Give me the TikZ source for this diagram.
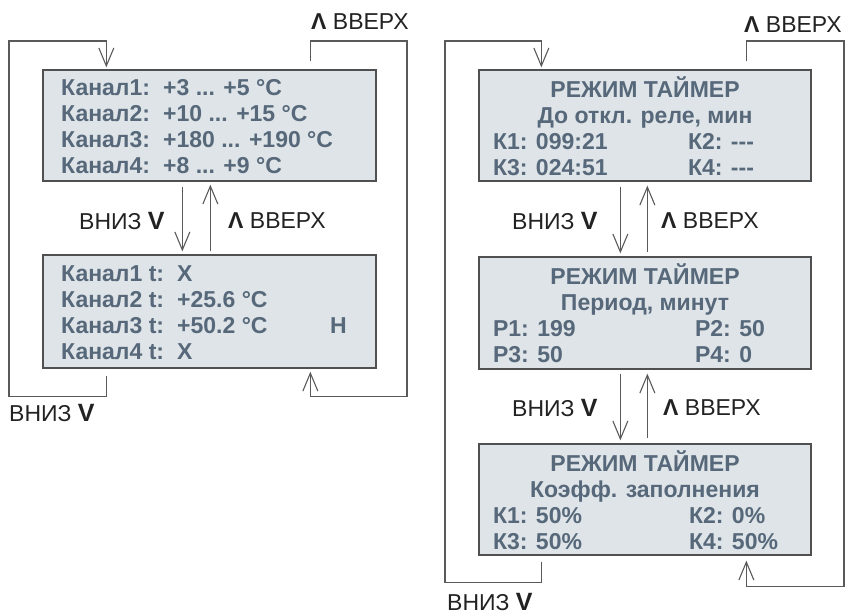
\documentclass[tikz,border=0pt]{standalone}
\usepackage{fontspec}
\setmainfont{Liberation Sans}
\usetikzlibrary{arrows.meta,calc}
\definecolor{boxfill}{HTML}{DEE4E7}
\definecolor{boxdraw}{HTML}{505050}
\definecolor{boxtext}{HTML}{56687A}
\definecolor{conncol}{HTML}{5A5A5A}
\definecolor{lbltext}{HTML}{222222}
\newcommand{\hy}{-\kern0pt-\kern0pt-}
\newcommand{\dnV}{{\fontsize{25}{26}\selectfont\bfseries V}}
\newcommand{\upL}{{\bfseries Λ}}
\begin{document}
\begin{tikzpicture}[x=1pt,y=-1pt,
  screen/.style={draw=boxdraw,line width=1.3pt,fill=boxfill,inner sep=0pt,rectangle},
  scrtext/.style={text=boxtext,font=\fontsize{23}{26}\selectfont\bfseries,inner sep=0pt,align=left},
  lbl/.style={text=lbltext,font=\fontsize{23}{26}\selectfont,inner sep=0pt,anchor=west},
  conn/.style={draw=conncol,line width=1.1pt,-{Straight Barb[length=18pt,width=15pt]}}]
\useasboundingbox (0,0) rectangle (851,614);

% ---------- left panel ----------
\node[screen,minimum width=333pt,minimum height=111pt] (L1) at (209.5,125.5) {};
\node[screen,minimum width=333pt,minimum height=113pt] (L2) at (209.5,311.5) {};

\node[scrtext,anchor=west] (L1t) at (61,127) {%
\makebox[102pt][l]{Канал1:}+3 ... +5 °C\\
\makebox[102pt][l]{Канал2:}+10 ... +15 °C\\
\makebox[102pt][l]{Канал3:}+180 ... +190 °C\\
\makebox[102pt][l]{Канал4:}+8 ... +9 °C};

\node[scrtext,anchor=west] (L2t) at (61,313) {%
\makebox[116pt][l]{Канал1 t:}X\\
\makebox[116pt][l]{Канал2 t:}+25.6 °C\\
\makebox[116pt][l]{Канал3 t:}\makebox[153pt][l]{+50.2 °C}H\\
\makebox[116pt][l]{Канал4 t:}X};

\node[lbl] (Lup) at (311,22) {\upL{} ВВЕРХ};
\node[lbl] (Ldn1) at (79,221) {ВНИЗ \dnV};
\node[lbl] (Lup1) at (228,221) {\upL{} ВВЕРХ};
\node[lbl] (Ldn) at (9,413) {ВНИЗ \dnV};

\draw[conn] ($(L2.south west)+(64,7)$) -- ++(0,21) -| (9,41) -| ($(L1.north west)+(64,-2)$);
\draw[conn] ($(L1.north west)+(268,-8)$) |- (407,41) |- ($(L2.south west)+(268,28)$) -- ($(L2.south west)+(268,3)$);
\draw[conn] ($(L1.south west)+(140,5)$) -- ($(L2.north west)+(140,-3)$);
\draw[conn] ($(L2.north west)+(168,-3)$) -- ($(L1.south west)+(168,3)$);

% ---------- right panel ----------
\node[screen,minimum width=332pt,minimum height=111pt] (R1) at (645,125.5) {};
\node[screen,minimum width=332pt,minimum height=112pt] (R2) at (645,313) {};
\node[screen,minimum width=332pt,minimum height=111pt] (R3) at (645,499.5) {};

\node[scrtext,align=center] (R1t) at (645,126) {%
\makebox[304pt][c]{РЕЖИМ ТАЙМЕР}\\
\makebox[304pt][c]{До откл. реле, мин}\\
\makebox[304pt][l]{\makebox[195pt][l]{К1: 099:21}К2: \hy}\\
\makebox[304pt][l]{\makebox[195pt][l]{К3: 024:51}К4: \hy}};

\node[scrtext,align=center] (R2t) at (645,313) {%
\makebox[304pt][c]{РЕЖИМ ТАЙМЕР}\\
\makebox[304pt][c]{Период, минут}\\
\makebox[304pt][l]{\makebox[202pt][l]{P1: 199}P2: 50}\\
\makebox[304pt][l]{\makebox[202pt][l]{P3: 50}P4: 0}};

\node[scrtext,align=center] (R3t) at (645,500) {%
\makebox[304pt][c]{РЕЖИМ ТАЙМЕР}\\
\makebox[304pt][c]{Коэфф. заполнения}\\
\makebox[304pt][l]{\makebox[196pt][l]{К1: 50\%}К2: 0\%}\\
\makebox[304pt][l]{\makebox[196pt][l]{К3: 50\%}К4: 50\%}};

\node[lbl] (Rup) at (744,25) {\upL{} ВВЕРХ};
\node[lbl] (Rdn1) at (512,221) {ВНИЗ \dnV};
\node[lbl] (Rup1) at (661,221) {\upL{} ВВЕРХ};
\node[lbl] (Rdn2) at (512,408) {ВНИЗ \dnV};
\node[lbl] (Rup2) at (663,408) {\upL{} ВВЕРХ};
\node[lbl] (Rdn) at (447,602) {ВНИЗ \dnV};

\draw[conn] ($(R3.south west)+(63,6)$) -- ++(0,21) -| (445,41) -| ($(R1.north west)+(63,-2)$);
\draw[conn] ($(R1.north west)+(268,-8)$) |- (844,41) |- ($(R3.south west)+(268,31)$) -- ($(R3.south west)+(268,5)$);
\draw[conn] ($(R1.south west)+(142,5)$) -- ($(R2.north west)+(142,-3)$);
\draw[conn] ($(R2.north west)+(169,-4)$) -- ($(R1.south west)+(169,4)$);
\draw[conn] ($(R2.south west)+(142,4)$) -- ($(R3.north west)+(142,-3)$);
\draw[conn] ($(R3.north west)+(169,-5)$) -- ($(R2.south west)+(169,4)$);
\end{tikzpicture}
\end{document}
